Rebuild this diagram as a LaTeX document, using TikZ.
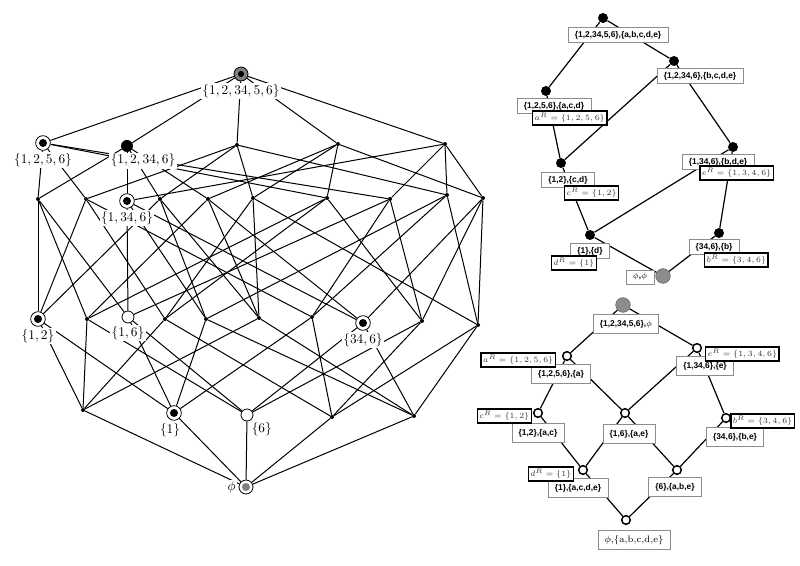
\documentclass[tikz,border=0pt]{standalone}
\usepackage{fontspec}
\newfontfamily\boxfont{Liberation Sans}
\usetikzlibrary{positioning}

\begin{document}
\begin{tikzpicture}[
    x=0.75pt, y=-0.75pt,
    dot/.style={circle, fill=black, inner sep=0pt, minimum size=3pt},
    ring/.style={circle, draw, fill=white, inner sep=0pt, minimum size=11pt, line width=0.6pt,
      path picture={\fill[black] (path picture bounding box.center) circle (3pt);}},
    blk/.style={circle, fill=black, inner sep=0pt, minimum size=9pt},
    hollow/.style={circle, draw, fill=white, inner sep=0pt, minimum size=9pt, line width=0.6pt},
    topring/.style={circle, draw, fill=gray, inner sep=0pt, minimum size=10.5pt, line width=0.6pt,
      path picture={\fill[black] (path picture bounding box.center) circle (2.3pt);}},
    botring/.style={circle, draw, fill=white, inner sep=0pt, minimum size=10.5pt, line width=0.6pt,
      path picture={\fill[gray] (path picture bounding box.center) circle (3pt);}},
    lbl/.style={fill=white, inner sep=1pt},
    lnk/.style={line width=0.75pt},
    bigdot/.style={circle, fill=black, inner sep=0pt, minimum size=7.5pt},
    graydot/.style={circle, draw=black!60, fill=gray!90, inner sep=0pt, minimum size=11pt},
    odot/.style={circle, draw, line width=1.1pt, fill=white, inner sep=0pt, minimum size=6.5pt},
    cbox/.style={draw=black!45, fill=white, inner xsep=5pt, inner ysep=2.6pt,
      font=\boxfont\bfseries\fontsize{6.3}{7}\selectfont},
    lbox/.style={cbox, minimum height=14pt},
    rlab/.style={draw, line width=1.1pt, fill=white, inner sep=1.5pt, text=black!80,
      font=\fontsize{5.9}{7}\selectfont},
    link/.style={line width=0.9pt},
  ]
  \useasboundingbox (0,0) rectangle (800,566);

  % boolean lattice on the left
  \node[topring] (T) at (241,74) {};
  \foreach \n/\x/\y/\s in {abde/43/143/ring, abce/127/146/blk, abcd/237/145/dot,
      bcde/338/144/dot, acde/445/144/dot}
    \node[\s] (\n) at (\x,\y) {};
  \foreach \n/\x/\y/\s in {abe/38/199/dot, abd/86/199/dot, ace/127/201/ring, abc/160/199/dot,
      bce/208/199/dot, bcd/253/198/dot, bde/327/198/dot, ade/390/199/dot, acd/447/195/dot,
      cde/483/198/dot}
    \node[\s] (\n) at (\x,\y) {};
  \foreach \n/\x/\y/\s in {ab/38/319/ring, be/87/319/dot, ae/128/317/hollow, bd/165/319/dot,
      ac/206/319/dot, bc/259/318/dot, ad/312/317/dot, ce/363/323/ring, de/422/321/dot,
      cd/478/325/dot}
    \node[\s] (\n) at (\x,\y) {};
  \foreach \n/\x/\y/\s in {b/83/410/dot, a/174/413/ring, e/247/415/hollow, d/332/417/dot,
      c/414/416/dot}
    \node[\s] (\n) at (\x,\y) {};
  \node[botring] (z) at (246,487) {};

  \foreach \u/\v in {z/a,z/b,z/c,z/d,z/e,
      a/ab,a/ac,a/ad,a/ae, b/ab,b/bc,b/bd,b/be, c/ac,c/bc,c/cd,c/ce,
      d/ad,d/bd,d/cd,d/de, e/ae,e/be,e/ce,e/de,
      ab/abc,ab/abd,ab/abe, ac/abc,ac/acd,ac/ace, ad/abd,ad/acd,ad/ade,
      ae/abe,ae/ace,ae/ade, bc/abc,bc/bcd,bc/bce, bd/abd,bd/bcd,bd/bde,
      be/abe,be/bce,be/bde, cd/acd,cd/bcd,cd/cde, ce/ace,ce/bce,ce/cde,
      de/ade,de/bde,de/cde,
      abc/abcd,abc/abce, abd/abcd,abd/abde, abe/abce,abe/abde, acd/abcd,acd/acde,
      ace/abce,ace/acde, ade/abde,ade/acde, bcd/abcd,bcd/bcde, bce/abce,bce/bcde,
      bde/abde,bde/bcde, cde/acde,cde/bcde,
      abcd/T,abce/T,abde/T,acde/T,bcde/T}
    \draw[lnk] (\u) -- (\v);

  \node[lbl, below=1pt of T] {$\{1,2,34,5,6\}$};
  \node[lbl, below=1pt of abde] {$\{1,2,5,6\}$};
  \node[lbl, below=0pt of abce, xshift=12pt] {$\{1,2,34,6\}$};
  \node[lbl, below=1pt of ace] {$\{1,34,6\}$};
  \node[lbl, below=1pt of ab] {$\{1,2\}$};
  \node[lbl, below=1pt of ae] {$\{1,6\}$};
  \node[lbl, below=1pt of ce] {$\{34,6\}$};
  \node[lbl, below=1pt of a, xshift=-3pt] {$\{1\}$};
  \node[lbl, below right=1pt and -1pt of e] {$\{6\}$};
  \node[lbl, left=1pt of z] {$\phi$};

  % upper right lattice
  \node[bigdot] (u1) at (603,18) {};
  \node[bigdot] (u2) at (674,61) {};
  \node[bigdot] (u3) at (546,91) {};
  \node[bigdot] (u4) at (733,147) {};
  \node[bigdot] (u5) at (561,163) {};
  \node[bigdot] (u6) at (590,235) {};
  \node[bigdot] (u7) at (719,233) {};
  \node[graydot] (u8) at (663,276) {};
  \foreach \u/\v in {u1/u2,u1/u3,u2/u5,u2/u4,u3/u5,u5/u6,u4/u7,u4/u6,u6/u8,u7/u8}
    \draw[link] (\u) -- (\v);

  \node[cbox] at (618,35) {\{1,2,34,5,6\},\{a,b,c,d,e\}};
  \node[cbox] at (700,76) {\{1,2,34,6\},\{b,c,d,e\}};
  \node[cbox] at (554,106) {\{1,2,5,6\},\{a,c,d\}};
  \node[cbox] at (718,162) {\{1,34,6\},\{b,d,e\}};
  \node[cbox] at (568,180) {\{1,2\},\{c,d\}};
  \node[cbox] at (590,251) {\{1\},\{d\}};
  \node[cbox] at (714,247) {\{34,6\},\{b\}};
  \node[cbox] at (640,277) {$\phi$,$\phi$};
  \node[rlab, anchor=west] at (532,118) {$a^R=\{1,2,5,6\}$};
  \node[rlab, anchor=east] at (774,173) {$e^R=\{1,3,4,6\}$};
  \node[rlab, anchor=west] at (564,193) {$c^R=\{1,2\}$};
  \node[rlab, anchor=east] at (597,263) {$d^R=\{1\}$};
  \node[rlab, anchor=west] at (704,260) {$b^R=\{3,4,6\}$};

  % lower right lattice
  \node[graydot] (l1) at (623,305) {};
  \node[odot] (l2) at (567,356) {};
  \node[odot] (l3) at (697,348) {};
  \node[odot] (l4) at (538,413) {};
  \node[odot] (l5) at (625,413) {};
  \node[odot] (l6) at (726,418) {};
  \node[odot] (l7) at (583,470) {};
  \node[odot] (l8) at (677,470) {};
  \node[odot] (l9) at (626,520) {};
  \foreach \u/\v in {l1/l2,l1/l3,l2/l4,l2/l5,l3/l5,l3/l6,l4/l7,l5/l7,l5/l8,l6/l8,l7/l9,l8/l9}
    \draw[link] (\u) -- (\v);

  \node[lbox] at (626,324) {\{1,2,34,5,6\},$\phi$};
  \node[lbox] at (561,374) {\{1,2,5,6\},\{a\}};
  \node[lbox] at (705,366) {\{1,34,6\},\{e\}};
  \node[lbox] at (538,433) {\{1,2\},\{a,c\}};
  \node[lbox] at (629,434) {\{1,6\},\{a,e\}};
  \node[lbox] at (735,437) {\{34,6\},\{b,e\}};
  \node[lbox] at (578,488) {\{1\},\{a,c,d,e\}};
  \node[lbox] at (675,487) {\{6\},\{a,b,e\}};
  \node[lbox, font=\fontsize{7}{8}\selectfont] at (634,540) {$\phi$,\{a,b,c,d,e\}};
  \node[rlab, anchor=east] at (556,360) {$a^R=\{1,2,5,6\}$};
  \node[rlab, anchor=west] at (705,354) {$e^R=\{1,3,4,6\}$};
  \node[rlab, anchor=east] at (532,416) {$c^R=\{1,2\}$};
  \node[rlab, anchor=east] at (795,421) {$b^R=\{3,4,6\}$};
  \node[rlab, anchor=east] at (574,474) {$d^R=\{1\}$};
\end{tikzpicture}
\end{document}
